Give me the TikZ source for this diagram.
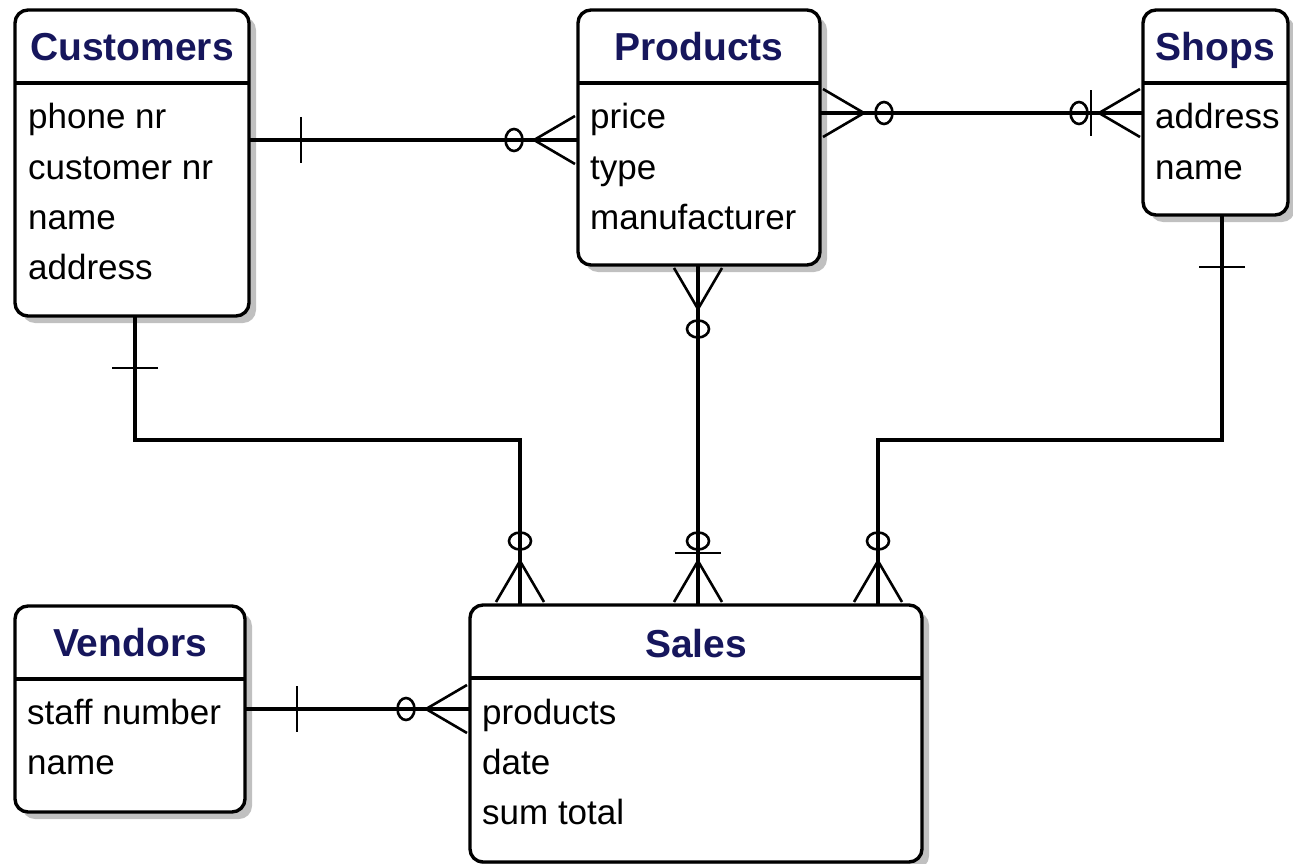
\documentclass[tikz,border=0pt]{standalone}
\usepackage{fontspec}
\setmainfont{Liberation Sans}
\usetikzlibrary{shadows,calc}
\definecolor{titleblue}{RGB}{22,22,92}
\definecolor{shadowgray}{RGB}{192,192,192}
\begin{document}
\begin{tikzpicture}[x=1pt,y=-1pt,
  entity/.style={draw, line width=3.4pt, rounded corners=13pt, fill=white, inner sep=0pt, outer sep=0pt,
    anchor=north west, drop shadow={shadow xshift=7pt, shadow yshift=-7pt, fill=shadowgray, opacity=1}},
  headline/.style={line width=3.4pt},
  title/.style={font=\fontsize{39}{39}\selectfont\bfseries, text=titleblue, anchor=base, inner sep=0pt},
  attr/.style={font=\fontsize{35}{50}\selectfont, anchor=base west, inner sep=0pt},
  conn/.style={line width=3.2pt},
  orn/.style={line width=2.6pt},
  crow/.pic={\draw[orn] (3,-24) -- (44,0) -- (3,24);},
  ring/.pic={\draw[orn] (64,0) ellipse [x radius=8.5, y radius=11];},
  onetick/.pic={\draw[orn] (52,-23) -- (52,23);}
]
\fill[white] (0,0) rectangle (1293,864);
\useasboundingbox (0,0) rectangle (1293,864);

% entities
\node[entity, minimum width=234pt, minimum height=306pt] (cust) at (15,10) {};
\node[entity, minimum width=242pt, minimum height=255pt] (prod) at (578,10) {};
\node[entity, minimum width=145pt, minimum height=205pt] (shop) at (1143,10) {};
\node[entity, minimum width=230pt, minimum height=206pt] (vend) at (15,606) {};
\node[entity, minimum width=452pt, minimum height=257pt] (sales) at (470,605) {};

% header lines
\foreach \e in {cust,prod,shop,vend,sales}{
  \draw[headline] ([yshift=-73pt]\e.north west) -- ([yshift=-73pt]\e.north east);
}

% titles
\node[title] (custT) at ($(cust.north)+(0,51)$) {Customers};
\node[title] (prodT) at ($(prod.north)+(0,51)$) {Products};
\node[title] (shopT) at ($(shop.north)+(0,51)$) {Shops};
\node[title] (vendT) at ($(vend.north)+(0,50)$) {Vendors};
\node[title] (salesT) at ($(sales.north)+(0,52)$) {Sales};

% attributes
\node[attr] (c1) at ($(cust.north west)+(13,119)$) {phone nr};
\node[attr] (c2) at ($(cust.north west)+(13,169)$) {customer nr};
\node[attr] (c3) at ($(cust.north west)+(13,219)$) {name};
\node[attr] (c4) at ($(cust.north west)+(13,269)$) {address};
\node[attr] (p1) at ($(prod.north west)+(12,119)$) {price};
\node[attr] (p2) at ($(prod.north west)+(12,169)$) {type};
\node[attr] (p3) at ($(prod.north west)+(12,219)$) {manufacturer};
\node[attr] (s1) at ($(shop.north west)+(12,119)$) {address};
\node[attr] (s2) at ($(shop.north west)+(12,169)$) {name};
\node[attr] (v1) at ($(vend.north west)+(12,118)$) {staff number};
\node[attr] (v2) at ($(vend.north west)+(12,168)$) {name};
\node[attr] (a1) at ($(sales.north west)+(12,119)$) {products};
\node[attr] (a2) at ($(sales.north west)+(12,169)$) {date};
\node[attr] (a3) at ($(sales.north west)+(12,219)$) {sum total};

% routing coordinates
\coordinate (y1) at (0,140);
\coordinate (y2) at (0,113);
\coordinate (y6) at (0,709);
\coordinate (k1) at (135,440);
\coordinate (k2) at (520,440);
\coordinate (k3) at (698,440);
\coordinate (k4) at (1222,440);
\coordinate (k5) at (878,440);

% Customers -- Products
\draw[conn] (cust.east |- y1) coordinate (e1a) -- (prod.west |- y1) coordinate (e1b);
\path (e1a) pic {onetick};
\path (e1b) pic[rotate=180] {crow} (e1b) pic[rotate=180] {ring};

% Products -- Shops
\draw[conn] (prod.east |- y2) coordinate (e2a) -- (shop.west |- y2) coordinate (e2b);
\path (e2a) pic {crow} (e2a) pic {ring};
\path (e2b) pic[rotate=180] {crow} (e2b) pic[rotate=180] {ring} (e2b) pic[rotate=180] {onetick};

% Customers -- Sales
\draw[conn] (cust.south -| k1) coordinate (e3a) -- (k1) -- (k2) -- (sales.north -| k2) coordinate (e3b);
\path (e3a) pic[rotate=-90] {onetick};
\path (e3b) pic[rotate=90] {crow} (e3b) pic[rotate=90] {ring};

% Products -- Sales
\draw[conn] (prod.south -| k3) coordinate (e4a) -- (sales.north -| k3) coordinate (e4b);
\path (e4a) pic[rotate=-90] {crow} (e4a) pic[rotate=-90] {ring};
\path (e4b) pic[rotate=90] {crow} (e4b) pic[rotate=90] {ring} (e4b) pic[rotate=90] {onetick};

% Shops -- Sales
\draw[conn] (shop.south -| k4) coordinate (e5a) -- (k4) -- (k5) -- (sales.north -| k5) coordinate (e5b);
\path (e5a) pic[rotate=-90] {onetick};
\path (e5b) pic[rotate=90] {crow} (e5b) pic[rotate=90] {ring};

% Vendors -- Sales
\draw[conn] (vend.east |- y6) coordinate (e6a) -- (sales.west |- y6) coordinate (e6b);
\path (e6a) pic {onetick};
\path (e6b) pic[rotate=180] {crow} (e6b) pic[rotate=180] {ring};
\end{tikzpicture}
\end{document}
